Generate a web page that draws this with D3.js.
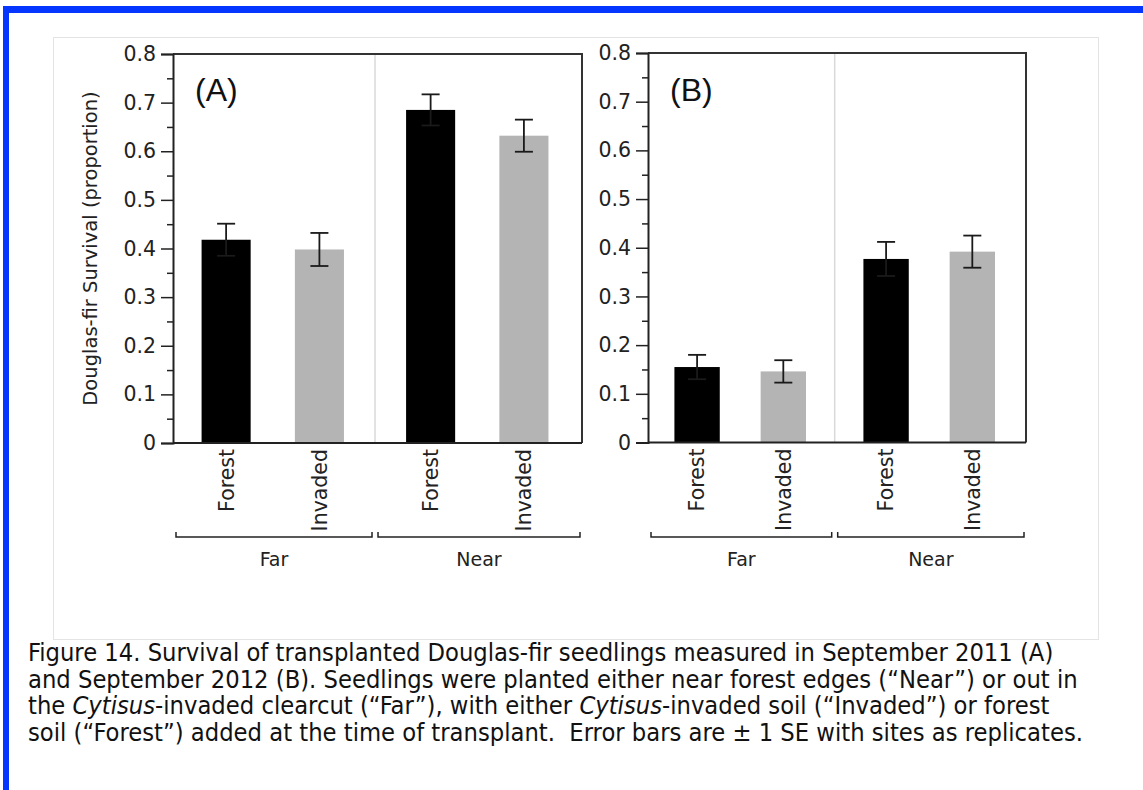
<!DOCTYPE html>
<html>
<head>
<meta charset="utf-8">
<script src="https://cdn.jsdelivr.net/npm/d3@7"></script>
<style>
  html, body { margin: 0; padding: 0; background: #fff; }
  svg { display: block; }
</style>
</head>
<body>
<svg id="chart" width="1143" height="790"></svg>
<script>
// ---------------- data ----------------
const groups = ["Far", "Near"];
const soils = ["Forest", "Invaded"];
const panelLabels = ["(A)", "(B)"];
// Panel A: September 2011
const meanA = [0.418, 0.398, 0.685, 0.632];   // Far-Forest, Far-Invaded, Near-Forest, Near-Invaded
const seA   = [0.033, 0.034, 0.032, 0.033];
// Panel B: September 2012
const meanB = [0.155, 0.146, 0.377, 0.392];
const seB   = [0.025, 0.023, 0.035, 0.033];
const yTickValues = [0, 0.1, 0.2, 0.3, 0.4, 0.5, 0.6, 0.7, 0.8];
const yTickLabels = ["0", "0.1", "0.2", "0.3", "0.4", "0.5", "0.6", "0.7", "0.8"];
const yMinorTicks = [0.05, 0.15, 0.25, 0.35, 0.45, 0.55, 0.65, 0.75];
const yTitle = "Douglas-fir Survival (proportion)";

// ---------------- layout ----------------
const svg = d3.select("#chart");
const FONT = "'DejaVu Sans', Verdana, sans-serif";
const soilColor = { Forest: "#000000", Invaded: "#b4b4b4" };

// page decoration
svg.append("rect").attr("x", 3).attr("y", 6).attr("width", 1140).attr("height", 7).attr("fill", "#0536ff");
svg.append("rect").attr("x", 3).attr("y", 6).attr("width", 6).attr("height", 784).attr("fill", "#0536ff");
svg.append("rect").attr("x", 53.5).attr("y", 37.5).attr("width", 1045).attr("height", 602)
  .attr("fill", "none").attr("stroke", "#e4e4e4").attr("stroke-width", 1);

const panels = [
  { label: panelLabels[0], mean: meanA, se: seA, x0: 173, x1: 582, yTop: 54, yBot: 443, showTitle: true },
  { label: panelLabels[1], mean: meanB, se: seB, x0: 648, x1: 1026, yTop: 53, yBot: 442.5, showTitle: false }
];

panels.forEach(p => {
  const g = svg.append("g");
  const y = d3.scaleLinear().domain([0, 0.8]).range([p.yBot, p.yTop]);
  const xg = d3.scaleBand().domain(groups).range([p.x0, p.x1]).padding(0);
  const xs = d3.scaleBand().domain(soils).range([0, xg.bandwidth()])
    .paddingInner(0.474).paddingOuter(0.333).align(0.46);

  const rows = [];
  groups.forEach((gr, gi) => soils.forEach((s, si) => {
    const i = gi * soils.length + si;
    rows.push({ group: gr, soil: s, mean: p.mean[i], se: p.se[i] });
  }));
  const cx = d => xg(d.group) + xs(d.soil) + xs.bandwidth() / 2;

  // divider between groups (midpoint between neighbouring bars)
  const divX = (xg("Far") + xs("Invaded") + xs.bandwidth() + xg("Near") + xs("Forest")) / 2;
  g.append("line").attr("x1", divX).attr("x2", divX).attr("y1", p.yTop).attr("y2", p.yBot)
    .attr("stroke", "#d9d9d9").attr("stroke-width", 1.5);

  // bars
  g.selectAll("rect.bar").data(rows).join("rect")
    .attr("class", "bar")
    .attr("x", d => xg(d.group) + xs(d.soil))
    .attr("width", xs.bandwidth())
    .attr("y", d => y(d.mean))
    .attr("height", d => y(0) - y(d.mean))
    .attr("fill", d => soilColor[d.soil]);

  // error bars
  const capW = 18;
  const eb = g.selectAll("g.eb").data(rows).join("g").attr("class", "eb")
    .attr("stroke", "#1a1a1a").attr("stroke-width", 1.8);
  eb.append("line").attr("x1", cx).attr("x2", cx)
    .attr("y1", d => y(d.mean - d.se)).attr("y2", d => y(d.mean + d.se));
  eb.append("line").attr("x1", d => cx(d) - capW / 2).attr("x2", d => cx(d) + capW / 2)
    .attr("y1", d => y(d.mean + d.se)).attr("y2", d => y(d.mean + d.se));
  eb.append("line").attr("x1", d => cx(d) - capW / 2).attr("x2", d => cx(d) + capW / 2)
    .attr("y1", d => y(d.mean - d.se)).attr("y2", d => y(d.mean - d.se));

  // frame (top & right)
  g.append("path")
    .attr("d", `M${p.x0},${p.yTop}H${p.x1}V${p.yBot}`)
    .attr("fill", "none").attr("stroke", "#333").attr("stroke-width", 2);

  // y axis
  const yAxis = d3.axisLeft(y).tickValues(yTickValues)
    .tickFormat((d, i) => yTickLabels[i]).tickSize(12).tickPadding(5);
  const ya = g.append("g").attr("transform", `translate(${p.x0},0)`).call(yAxis);
  ya.select(".domain").attr("stroke", "#222").attr("stroke-width", 2);
  ya.selectAll(".tick line").attr("stroke", "#222").attr("stroke-width", 1.5);
  ya.selectAll(".tick text").attr("font-family", FONT).attr("font-size", 20.5).attr("fill", "#222");
  const yMinor = d3.axisLeft(y).tickValues(yMinorTicks).tickFormat("").tickSize(6);
  const ym = g.append("g").attr("transform", `translate(${p.x0},0)`).call(yMinor);
  ym.select(".domain").remove();
  ym.selectAll(".tick line").attr("stroke", "#222").attr("stroke-width", 1.5);

  // x baseline
  g.append("line").attr("x1", p.x0).attr("x2", p.x1).attr("y1", p.yBot).attr("y2", p.yBot)
    .attr("stroke", "#222").attr("stroke-width", 2);

  // soil labels (rotated)
  g.selectAll("text.soil").data(rows).join("text")
    .attr("class", "soil")
    .attr("transform", d => `translate(${cx(d)},${p.yBot + 6}) rotate(-90)`)
    .attr("text-anchor", "end").attr("dy", "0.36em")
    .attr("font-family", FONT).attr("font-size", 20.5).attr("fill", "#222")
    .text(d => d.soil);

  // group brackets
  const bY = 537;
  groups.forEach((gr, gi) => {
    const left = gi === 0 ? p.x0 + 3 : divX + 3;
    const right = gi === 0 ? divX - 3 : p.x1 - 2;
    g.append("path").attr("d", `M${left},${bY - 5}V${bY}H${right}V${bY - 5}`)
      .attr("fill", "none").attr("stroke", "#222").attr("stroke-width", 1.5);
    g.append("text").attr("x", (left + right) / 2).attr("y", 566)
      .attr("text-anchor", "middle").attr("font-family", FONT).attr("font-size", 19)
      .attr("fill", "#222").text(gr);
  });

  // panel label
  g.append("text").attr("x", p.x0 + 22).attr("y", 101)
    .attr("font-family", "'Liberation Sans', Arial, sans-serif").attr("font-size", 32)
    .attr("fill", "#111").text(p.label);

  if (p.showTitle) {
    g.append("text")
      .attr("transform", `translate(97,${(p.yTop + p.yBot) / 2}) rotate(-90)`)
      .attr("text-anchor", "middle")
      .attr("font-family", FONT).attr("font-size", 19.5).attr("fill", "#222")
      .text(yTitle);
  }
});

// ---------------- caption ----------------
const captionLines = [
  [{ t: "Figure 14. Survival of transplanted Douglas-fir seedlings measured in September 2011 (A)" }],
  [{ t: "and September 2012 (B). Seedlings were planted either near forest edges (\u201CNear\u201D) or out in" }],
  [{ t: "the " }, { t: "Cytisus", i: true }, { t: "-invaded clearcut (\u201CFar\u201D), with either " }, { t: "Cytisus", i: true }, { t: "-invaded soil (\u201CInvaded\u201D) or forest" }],
  [{ t: "soil (\u201CForest\u201D) added at the time of transplant.  Error bars are \u00B1 1 SE with sites as replicates." }]
];
const capBase = [661, 687.5, 714, 740.5];
const cap = svg.append("g").attr("font-family", "'DejaVu Sans Condensed', Tahoma, sans-serif")
  .attr("font-size", 20).attr("fill", "#111").style("white-space", "pre");
captionLines.forEach((line, li) => {
  const t = cap.append("text").attr("x", 28).attr("y", capBase[li]).attr("xml:space", "preserve");
  line.forEach(seg => {
    const ts = t.append("tspan").text(seg.t);
    if (seg.i) ts.attr("font-style", "italic");
  });
});
// fit caption font size to first line's width in the reference
const first = cap.select("text").node();
const w = first.getComputedTextLength();
cap.attr("font-size", 20 * 1026 / w);
</script>
</body>
</html>
